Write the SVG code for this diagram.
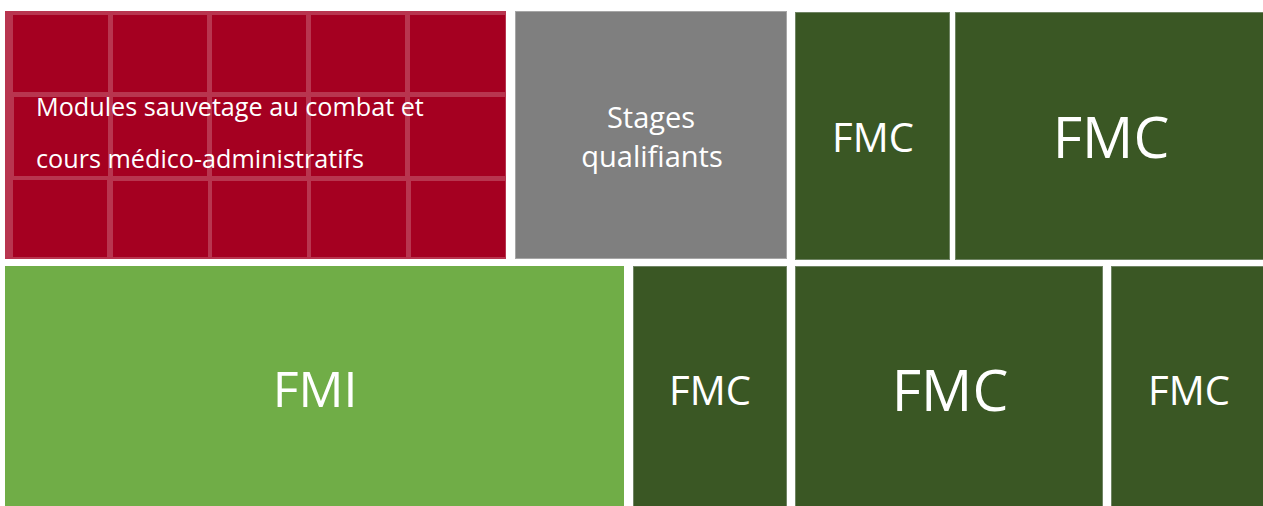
<svg xmlns="http://www.w3.org/2000/svg" width="1263" height="506" viewBox="0 0 1263 506">
<style>
  text { font-family: "Open Sans", "Noto Sans", "Liberation Sans", sans-serif; fill: #ffffff; }
  .c { text-anchor: middle; }
  .dark { fill: #3a5724; stroke: #6f8463; stroke-width: 1; }
  .cell { fill: #a50021; }
</style>
<rect width="1263" height="506" fill="#ffffff"/>
<g id="modules">
  <rect x="5" y="11" width="501" height="248" fill="#b8354f"/>
  <rect class="cell" x="13" y="15" width="95" height="77"/>
  <rect class="cell" x="113" y="15" width="94" height="77"/>
  <rect class="cell" x="212" y="15" width="94" height="77"/>
  <rect class="cell" x="311" y="15" width="94" height="77"/>
  <rect class="cell" x="410" y="15" width="95" height="77"/>
  <rect class="cell" x="14" y="97" width="94" height="79"/>
  <rect class="cell" x="113" y="97" width="94" height="79"/>
  <rect class="cell" x="212" y="97" width="94" height="79"/>
  <rect class="cell" x="311" y="97" width="94" height="79"/>
  <rect class="cell" x="410" y="97" width="95" height="79"/>
  <rect class="cell" x="13" y="180" width="94" height="77"/>
  <rect class="cell" x="113" y="181" width="95" height="76"/>
  <rect class="cell" x="212" y="181" width="95" height="76"/>
  <rect class="cell" x="311" y="181" width="95" height="76"/>
  <rect class="cell" x="411" y="181" width="94" height="76"/>
  <text x="36" y="116" font-size="25.2">Modules sauvetage au combat et</text>
  <text x="36" y="168" font-size="25.2">cours médico-administratifs</text>
</g>
<g id="stages">
  <rect x="515.5" y="11.5" width="271" height="247" fill="#7f7f7f" stroke="#a6a6a6" stroke-width="1"/>
  <text class="c" x="651" y="128" font-size="29">Stages</text>
  <text class="c" x="652" y="167" font-size="29">qualifiants</text>
</g>
<g id="fmc1">
  <rect class="dark" x="795.5" y="12.5" width="154" height="247"/>
  <text class="c" x="873" y="152" font-size="40">FMC</text>
</g>
<g id="fmc2">
  <rect class="dark" x="955.5" y="12.5" width="308" height="247"/>
  <text class="c" x="1111" y="158" font-size="57">FMC</text>
</g>
<g id="fmi">
  <rect x="5" y="266" width="619" height="240" fill="#70ad47"/>
  <text class="c" x="315" y="407" font-size="50">FMI</text>
</g>
<g id="fmc3">
  <rect class="dark" x="633.5" y="266.5" width="153" height="240"/>
  <text class="c" x="710" y="405" font-size="40">FMC</text>
</g>
<g id="fmc4">
  <rect class="dark" x="795.5" y="266.5" width="307" height="240"/>
  <text class="c" x="950" y="411" font-size="57">FMC</text>
</g>
<g id="fmc5">
  <rect class="dark" x="1111.5" y="266.5" width="152" height="240"/>
  <text class="c" x="1189" y="405" font-size="40">FMC</text>
</g>
<g id="connectors"/>
</svg>
